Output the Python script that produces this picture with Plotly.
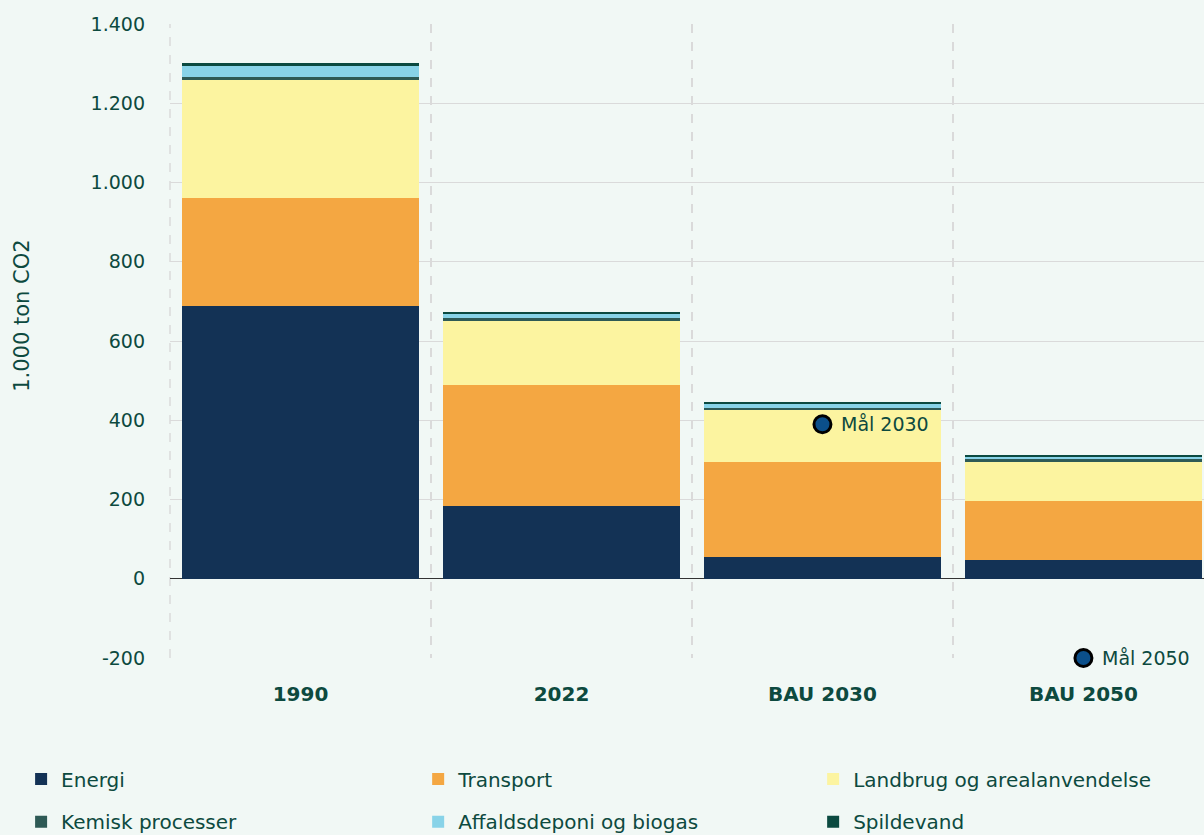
import plotly.graph_objects as go

# =========================
# Data
# =========================
categories = ["1990", "2022", "BAU 2030", "BAU 2050"]

energi = [689, 184, 55, 47]
transport = [272, 305, 240, 150]
landbrug = [300, 162, 131, 100]
kemisk = [4, 6, 5, 4]
affald = [31, 12, 10, 7]
spildevand = [5, 5, 4, 4]

target_labels = ["Mål 2030", "Mål 2050"]
target_cats = ["BAU 2030", "BAU 2050"]
target_values = [390, -200]

tick_values = [-200, 0, 200, 400, 600, 800, 1000, 1200, 1400]
tick_labels = ["-200", "0", "200", "400", "600", "800", "1.000", "1.200", "1.400"]

y_title = "1.000 ton CO2"

# =========================
# Colours / fonts
# =========================
BG = "#f1f8f5"
TEXT = "#0d4a3f"
GRID = "#dadada"
FONT = "DejaVu Sans, sans-serif"

series = [
    ("Energi", energi, "#133255"),
    ("Transport", transport, "#f4a742"),
    ("Landbrug og arealanvendelse", landbrug, "#fcf4a0"),
    ("Kemisk processer", kemisk, "#2e5a55"),
    ("Affaldsdeponi og biogas", affald, "#88d3e8"),
    ("Spildevand", spildevand, "#0b4a40"),
]

# legend grid: 3 columns (paper x) x 2 rows (container y)
LEGEND_COLS = [-0.144, 0.240, 0.622]
LEGEND_ROWS = [0.067, 0.016]

fig = go.Figure()

legend_layout = {}
for i, (name, vals, color) in enumerate(series):
    leg_id = "legend" if i == 0 else f"legend{i + 1}"
    fig.add_trace(
        go.Bar(
            x=categories,
            y=vals,
            name=name,
            legend=leg_id,
            marker=dict(color=color, line=dict(width=0)),
        )
    )
    legend_layout[leg_id] = dict(
        xref="paper",
        yref="container",
        x=LEGEND_COLS[i % 3],
        y=LEGEND_ROWS[i // 3],
        xanchor="left",
        yanchor="middle",
        bgcolor="rgba(0,0,0,0)",
        font=dict(family=FONT, size=20, color=TEXT),
    )

fig.add_trace(
    go.Scatter(
        x=target_cats,
        y=target_values,
        mode="markers",
        marker=dict(size=17, color="#0b4f8a", line=dict(width=3, color="#000000")),
        showlegend=False,
        cliponaxis=False,
    )
)

for lbl, cat, val in zip(target_labels, target_cats, target_values):
    fig.add_annotation(
        x=cat,
        y=val,
        text=lbl,
        showarrow=False,
        xanchor="left",
        xshift=17,
        font=dict(size=19, color=TEXT, family=FONT),
    )

# y-axis title (sits a bit above the middle of the plot area)
fig.add_annotation(
    xref="paper",
    yref="paper",
    x=-0.143,
    y=0.54,
    xanchor="center",
    yanchor="middle",
    text=y_title,
    textangle=-90,
    showarrow=False,
    font=dict(size=21, color=TEXT, family=FONT),
)

fig.update_layout(
    width=1204,
    height=835,
    barmode="stack",
    bargap=0.092,
    paper_bgcolor=BG,
    plot_bgcolor=BG,
    margin=dict(l=170, r=0, t=24, b=177),
    font=dict(family=FONT, color=TEXT, size=19),
    **legend_layout,
)

# dashed left edge of the plot area
fig.add_shape(
    type="line",
    xref="paper",
    yref="paper",
    x0=0,
    x1=0,
    y0=0,
    y1=1,
    line=dict(color=GRID, width=1.5, dash="dash"),
    layer="below",
)

fig.update_xaxes(
    type="category",
    range=[-0.5, 3.462],  # last column runs slightly past the right edge
    tickson="boundaries",
    showgrid=True,
    gridcolor=GRID,
    griddash="dash",
    gridwidth=1.5,
    ticks="",
    showline=False,
    tickfont=dict(size=20, color=TEXT, family=FONT, weight="bold"),
    ticklabelstandoff=22,
)

fig.update_yaxes(
    range=[-200, 1400],
    tickmode="array",
    tickvals=tick_values,
    ticktext=tick_labels,
    showgrid=True,
    gridcolor=GRID,
    gridwidth=1,
    zeroline=True,
    zerolinecolor="#333333",
    zerolinewidth=1,
    tickfont=dict(size=19, color=TEXT),
    ticklabelstandoff=24,
)

fig.write_html(
    "out.html",
    config={"displayModeBar": False},
    post_script="document.body.style.margin='0';",
)
